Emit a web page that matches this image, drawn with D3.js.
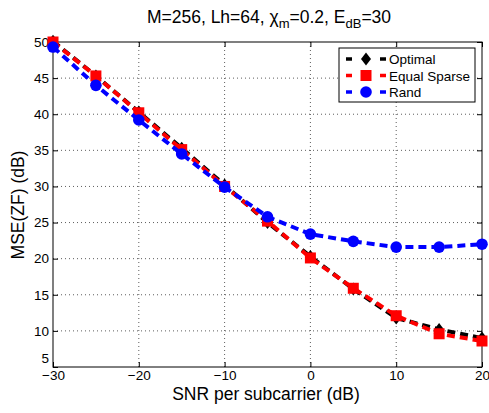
<!DOCTYPE html>
<html><head><meta charset="utf-8">
<script src="https://cdn.jsdelivr.net/npm/d3@7"></script>
<style>body{margin:0;background:#fff}svg{display:block}text{font-family:"Liberation Sans",Arial,Helvetica,sans-serif}</style>
</head><body><svg id="c" width="489" height="413"></svg>
<script>
const snr = [-30,-25,-20,-15,-10,-5,0,5,10,15,20];
const optimal = [50.1,45.3,40.3,35.3,30.2,25.0,20.3,15.8,11.8,10.2,9.0];
const equalSparse = [50.0,45.3,40.2,35.1,30.0,25.2,20.1,15.9,12.1,9.6,8.6];
const rand = [49.3,44.0,39.2,34.5,29.9,25.8,23.4,22.4,21.6,21.6,22.0];
const xTicks = [-30,-20,-10,0,10,20];
const yTicks = [5,10,15,20,25,30,35,40,45,50];
const seriesNames = ["Optimal","Equal Sparse","Rand"];

const svg = d3.select("#c");
const L=53,R=482,T=42,B=367;
const x = d3.scaleLinear().domain([-30,20]).range([L,R]);
const y = d3.scaleLinear().domain([5,50]).range([B,T]);

// grid
const g = svg.append("g");
xTicks.forEach(t=>{ if(t>-30&&t<20) g.append("line").attr("x1",x(t)).attr("x2",x(t)).attr("y1",T).attr("y2",B).attr("stroke","#333").attr("stroke-width",0.8).attr("stroke-dasharray","1,3");});
yTicks.forEach(t=>{ if(t>5&&t<50) g.append("line").attr("x1",L).attr("x2",R).attr("y1",y(t)).attr("y2",y(t)).attr("stroke","#333").attr("stroke-width",0.8).attr("stroke-dasharray","1,3");});

// axes
const ax = svg.append("g").attr("transform",`translate(0,${B})`).call(d3.axisBottom(x).tickValues(xTicks).tickSize(-5).tickPadding(3).tickFormat(d=>d<0?"\u2212"+(-d):d));
const ay = svg.append("g").attr("transform",`translate(${L},0)`).call(d3.axisLeft(y).tickValues(yTicks).tickSize(-5).tickPadding(4));
const axT = svg.append("g").attr("transform",`translate(0,${T})`).call(d3.axisTop(x).tickValues(xTicks).tickSize(-5).tickFormat(""));
const ayR = svg.append("g").attr("transform",`translate(${R},0)`).call(d3.axisRight(y).tickValues(yTicks).tickSize(-5).tickFormat(""));
[ax,ay,axT,ayR].forEach(a=>{a.select(".domain").remove();a.selectAll("line").attr("stroke","#000");a.selectAll("text").attr("fill","#000").style("font-size","13.5px").style("font-family","'Liberation Sans',Arial,sans-serif");});
ay.selectAll(".tick").filter(d=>d===5).select("text").attr("dy","-0.3em");
svg.append("rect").attr("x",L).attr("y",T).attr("width",R-L).attr("height",B-T).attr("fill","none").attr("stroke","#000").attr("stroke-width",1);

// series
const data = [
  {name:seriesNames[0], vals:optimal, color:"#000", marker:"diamond"},
  {name:seriesNames[1], vals:equalSparse, color:"#f00", marker:"square"},
  {name:seriesNames[2], vals:rand, color:"#00f", marker:"circle"}
];
const line = d3.line().x((d,i)=>x(snr[i])).y(d=>y(d));
function marker(sel, type, cx, cy, color){
  if(type==="diamond") sel.append("path").attr("d",`M${cx},${cy-6.5}L${cx+5},${cy}L${cx},${cy+6.5}L${cx-5},${cy}Z`).attr("fill",color);
  else if(type==="square") sel.append("rect").attr("x",cx-5.5).attr("y",cy-5.5).attr("width",11).attr("height",11).attr("fill",color);
  else sel.append("circle").attr("cx",cx).attr("cy",cy).attr("r",5.8).attr("fill",color);
}
data.forEach(s=>{
  const gg = svg.append("g");
  gg.append("path").attr("d",line(s.vals)).attr("fill","none").attr("stroke",s.color).attr("stroke-width",4).attr("stroke-dasharray","8,5");
  s.vals.forEach((v,i)=>marker(gg,s.marker,x(snr[i]),y(v),s.color));
});

// legend
const lg = svg.append("g");
lg.append("rect").attr("x",339).attr("y",48).attr("width",136).attr("height",54).attr("fill","#fff").attr("stroke","#000").attr("stroke-width",1);
data.forEach((s,i)=>{
  const cy = 59+i*16.5;
  lg.append("line").attr("x1",346).attr("x2",352).attr("y1",cy).attr("y2",cy).attr("stroke",s.color).attr("stroke-width",3.5);
  lg.append("line").attr("x1",380).attr("x2",386).attr("y1",cy).attr("y2",cy).attr("stroke",s.color).attr("stroke-width",3.5);
  marker(lg,s.marker,366,cy,s.color);
  lg.append("text").attr("x",389).attr("y",cy+5).text(s.name).style("font-size","13.5px").attr("fill","#000");
});

// labels
svg.append("text").attr("x",266).attr("y",400).attr("text-anchor","middle").style("font-size","17.5px").text("SNR per subcarrier (dB)");
svg.append("text").attr("transform","translate(24,205) rotate(-90)").attr("text-anchor","middle").style("font-size","17.5px").text("MSE(ZF) (dB)");
const tt = svg.append("text").attr("x",269).attr("y",23).attr("text-anchor","middle").style("font-size","17.5px");
tt.append("tspan").text("M=256, Lh=64, \u03c7");
tt.append("tspan").attr("dy",5).style("font-size","13px").text("m");
tt.append("tspan").attr("dy",-5).text("=0.2, E");
tt.append("tspan").attr("dy",5).style("font-size","13px").text("dB");
tt.append("tspan").attr("dy",-5).text("=30");
</script></body></html>
